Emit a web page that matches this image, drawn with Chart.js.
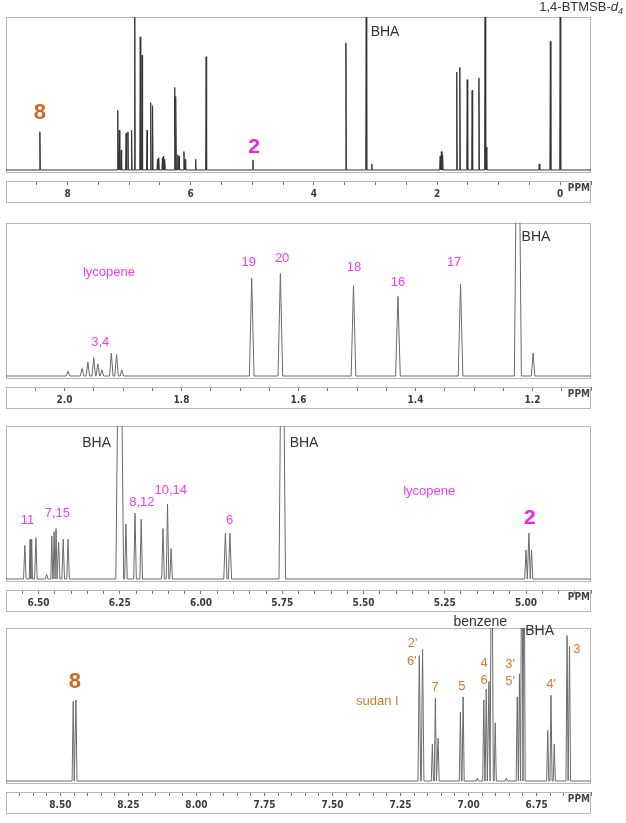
<!DOCTYPE html>
<html>
<head>
<meta charset="utf-8">
<script src="https://cdn.jsdelivr.net/npm/chart.js@4.4.1/dist/chart.umd.min.js"></script>
<style>
  body { margin: 0; background: #fff; width: 626px; height: 823px; position: relative; overflow: hidden; }
  .panel { position: absolute; left: 0; width: 626px; height: 205px; }
</style>
</head>
<body>
<div class="panel" style="top:0px"><canvas id="full" width="626" height="205"></canvas></div>
<div class="panel" style="top:206px"><canvas id="aliph" width="626" height="205"></canvas></div>
<div class="panel" style="top:409px"><canvas id="olef" width="626" height="205"></canvas></div>
<div class="panel" style="top:611px"><canvas id="arom" width="626" height="205"></canvas></div>
<script>
// ---- data (ppm, relative height, half linewidth in ppm) ----

// full spectrum, 9.0 .. -0.5 ppm
const fullShift = [8.45, 7.185, 7.16, 7.13, 7.05, 7.02, 6.96, 6.91, 6.82, 6.79, 6.71, 6.65, 6.62,
  6.54, 6.52, 6.46, 6.44, 6.42, 6.26, 6.24, 6.21, 6.19, 6.11, 6.09, 5.92, 5.75, 4.99,
  3.48, 3.15, 3.06, 1.95, 1.93, 1.91, 1.68, 1.63, 1.51, 1.43, 1.32, 1.22, 1.20, 0.34, 0.16, 0.0];
const fullHeight = [0.25, 0.39, 0.26, 0.13, 0.24, 0.25, 0.26, 1.5, 0.87, 0.75, 0.26, 0.44, 0.42,
  0.07, 0.08, 0.08, 0.09, 0.07, 0.54, 0.48, 0.10, 0.09, 0.12, 0.07, 0.07, 0.74, 0.065,
  0.83, 1.5, 0.04, 0.09, 0.12, 0.10, 0.64, 0.67, 0.59, 0.52, 0.60, 1.5, 0.15, 0.04, 0.84, 1.5];
const fullLw = fullShift.map(() => 0.008);
const fullTicks = ['8', '6', '4', '2', '0'];

// lycopene methyls, 2.1 .. 1.1 ppm
const aliphShift = [1.994, 1.970, 1.960, 1.950, 1.943, 1.936, 1.920, 1.911, 1.902,
  1.680, 1.631, 1.506, 1.430, 1.323, 1.225, 1.199];
const aliphHeight = [0.03, 0.05, 0.09, 0.12, 0.08, 0.04, 0.15, 0.14, 0.04,
  0.64, 0.67, 0.59, 0.52, 0.60, 2.5, 0.15];
const aliphLw = [0.003, 0.003, 0.003, 0.003, 0.003, 0.003, 0.003, 0.003, 0.003,
  0.004, 0.004, 0.004, 0.004, 0.004, 0.006, 0.003];
const aliphTicks = ['2.0', '1.8', '1.6', '1.4', '1.2'];

// lycopene olefinic region, 6.6 .. 4.8 ppm
const olefShift = [6.542, 6.526, 6.521, 6.508, 6.475, 6.459, 6.452, 6.446, 6.438, 6.424, 6.409,
  6.250, 6.231, 6.203, 6.184, 6.117, 6.103, 6.092, 5.925, 5.911, 5.750, 5.000, 4.991, 4.983];
const olefHeight = [0.22, 0.26, 0.26, 0.27, 0.03, 0.28, 0.31, 0.33, 0.24, 0.26, 0.26,
  2.5, 0.36, 0.43, 0.39, 0.33, 0.49, 0.20, 0.30, 0.30, 2.5, 0.19, 0.30, 0.19];
const olefLw = [0.004, 0.0025, 0.0025, 0.004, 0.004, 0.003, 0.003, 0.003, 0.004, 0.004, 0.004,
  0.012, 0.004, 0.004, 0.004, 0.004, 0.004, 0.004, 0.005, 0.005, 0.01, 0.004, 0.004, 0.004];
const olefTicks = ['6.50', '6.25', '6.00', '5.75', '5.50', '5.25', '5.00'];

// sudan I aromatic region, 8.7 .. 6.55 ppm
const aromShift = [8.453, 8.443, 7.181, 7.169, 7.133, 7.122, 7.112, 7.030, 7.020, 6.968,
  6.944, 6.935, 6.925, 6.915, 6.902, 6.861, 6.821, 6.813, 6.804, 6.796,
  6.709, 6.697, 6.685, 6.638, 6.629];
const aromHeight = [0.52, 0.53, 0.82, 0.86, 0.24, 0.54, 0.28, 0.45, 0.55, 0.02,
  0.53, 0.60, 0.65, 2.0, 0.38, 0.02, 0.55, 0.70, 2.0, 2.0,
  0.33, 0.56, 0.24, 0.95, 0.88];
const aromLw = [0.004, 0.004, 0.005, 0.005, 0.004, 0.004, 0.004, 0.004, 0.004, 0.004,
  0.004, 0.004, 0.004, 0.006, 0.004, 0.004, 0.004, 0.004, 0.004, 0.004,
  0.004, 0.004, 0.004, 0.004, 0.004];
const aromTicks = ['8.50', '8.25', '8.00', '7.75', '7.50', '7.25', '7.00', '6.75'];

// ---- annotation text: [text, ppm, level, kind] ----
const fullNotes = [['8', 8.45, 0.37, 'dyeBig'], ['2', 4.97, 0.15, 'lycBig'], ['BHA', 2.845, 0.90, 'ref']];
const aliphNotes = [['lycopene', 1.924, 0.68, 'lyc'], ['3,4', 1.939, 0.22, 'lyc'], ['19', 1.685, 0.74, 'lyc'],
  ['20', 1.628, 0.77, 'lyc'], ['18', 1.505, 0.71, 'lyc'], ['16', 1.430, 0.61, 'lyc'],
  ['17', 1.334, 0.74, 'lyc'], ['BHA', 1.194, 0.91, 'ref']];
const olefNotes = [['11', 6.534, 0.38, 'lyc'], ['7,15', 6.442, 0.43, 'lyc'], ['BHA', 6.321, 0.89, 'ref'],
  ['8,12', 6.182, 0.50, 'lyc'], ['10,14', 6.093, 0.58, 'lyc'], ['6', 5.912, 0.38, 'lyc'],
  ['BHA', 5.683, 0.89, 'ref'], ['lycopene', 5.298, 0.57, 'lyc'], ['2', 4.988, 0.40, 'lycBig']];
const aromNotes = [['8', 8.447, 0.65, 'dyeBig'], ['sudan I', 7.335, 0.52, 'dye'],
  ["2'", 7.206, 0.90, 'dye'], ["6'", 7.208, 0.78, 'dye'], ['7', 7.123, 0.61, 'dye'], ['5', 7.025, 0.62, 'dye'],
  ['4', 6.943, 0.77, 'dye'], ['6', 6.943, 0.66, 'dye'], ["3'", 6.847, 0.76, 'dye'], ["5'", 6.847, 0.65, 'dye'],
  ["4'", 6.697, 0.63, 'dye'], ['3', 6.602, 0.86, 'dye'], ['benzene', 6.957, 1.04, 'ref'], ['BHA', 6.739, 0.98, 'ref']];

const LABEL_FONT = '"Liberation Sans", Arial, sans-serif';
const TICK_FONT = '"Liberation Sans Narrow", "DejaVu Sans Condensed", "Liberation Sans", sans-serif';
const noteStyle = {
  lyc: { color: '#f23cf2', font: '13px ' + LABEL_FONT },
  lycBig: { color: '#ee22ee', font: 'bold 21px ' + LABEL_FONT },
  dye: { color: '#d9792f', font: '13px ' + LABEL_FONT },
  dyeBig: { color: '#cc6a24', font: 'bold 22px ' + LABEL_FONT },
  ref: { color: '#333', font: '14px ' + LABEL_FONT }
};

// each peak becomes foot - apex - foot
function trace(shift, height, lw, from, to) {
  const pts = [{ x: from, y: 0 }];
  shift.forEach((s, i) => {
    pts.push({ x: s + lw[i], y: 0 }, { x: s, y: height[i] }, { x: s - lw[i], y: 0 });
  });
  pts.push({ x: to, y: 0 });
  return pts;
}

function boxPlugin(notes, withTitle) {
  return {
    id: 'box',
    beforeDatasetsDraw(chart) {
      const { ctx, chartArea: a, scales: { y } } = chart;
      const bottom = Math.round(y.getPixelForValue(0)) + 2.5;
      ctx.save();
      ctx.strokeStyle = '#b8b8b8';
      ctx.lineWidth = 1;
      ctx.strokeRect(a.left + 0.5, a.top + 0.5, a.right - a.left - 1, bottom - a.top - 0.5);
      ctx.strokeRect(a.left + 0.5, a.bottom + 0.5, a.right - a.left - 1, 21);
      ctx.restore();
    },
    afterDraw(chart) {
      const { ctx, chartArea: a, scales: { x, y } } = chart;
      ctx.save();
      ctx.textAlign = 'center';
      ctx.textBaseline = 'middle';
      notes.forEach(([t, ppm, lev, kind]) => {
        ctx.fillStyle = noteStyle[kind].color;
        ctx.font = noteStyle[kind].font;
        ctx.fillText(t, x.getPixelForValue(ppm), y.getPixelForValue(lev));
      });
      // axis unit
      ctx.fillStyle = '#444';
      ctx.font = 'bold 10px ' + TICK_FONT;
      ctx.textAlign = 'right';
      ctx.fillText('PPM', a.right - 1, a.bottom + 7);
      if (withTitle) {
        // 1,4-BTMSB-d4 reference label above the box
        const xr = x.getPixelForValue(-1.02), yc = y.getPixelForValue(1.065);
        ctx.fillStyle = '#333';
        ctx.textAlign = 'left';
        ctx.font = '13px ' + LABEL_FONT;
        const w1 = ctx.measureText('1,4-BTMSB-').width;
        ctx.font = 'italic 13px ' + LABEL_FONT;
        const w2 = ctx.measureText('d').width;
        ctx.font = 'italic 9px ' + LABEL_FONT;
        const w3 = ctx.measureText('4').width;
        const x0 = xr - (w1 + w2 + w3);
        ctx.font = '13px ' + LABEL_FONT;
        ctx.fillText('1,4-BTMSB-', x0, yc);
        ctx.font = 'italic 13px ' + LABEL_FONT;
        ctx.fillText('d', x0 + w1, yc);
        ctx.font = 'italic 9px ' + LABEL_FONT;
        ctx.fillText('4', x0 + w1 + w2, yc + 4);
      }
      ctx.restore();
    }
  };
}

function spectrum(id, shift, height, lw, max, min, step, ticks, notes, color, withTitle) {
  return new Chart(document.getElementById(id), {
    type: 'line',
    data: {
      datasets: [{
        data: trace(shift, height, lw, max, min),
        borderColor: color,
        borderWidth: 1,
        pointRadius: 0,
        tension: 0,
        fill: false
      }]
    },
    options: {
      responsive: false,
      animation: false,
      events: [],
      layout: { padding: { top: 17, left: 6, right: 35, bottom: 0 } },
      plugins: { legend: { display: false }, tooltip: { enabled: false } },
      scales: {
        x: {
          type: 'linear',
          reverse: true,
          min: min,
          max: max,
          afterFit: (s) => { s.height = 24; },
          border: { display: true, color: '#777' },
          grid: { drawOnChartArea: false, tickLength: 4, color: '#777' },
          ticks: {
            stepSize: step,
            autoSkip: false,
            maxRotation: 0,
            padding: 3,
            color: '#3a3a3a',
            font: { family: TICK_FONT, size: 10, weight: 'bold' },
            callback: (v) => {
              const hit = ticks.find((l) => Math.abs(parseFloat(l) - v) < 1e-6);
              return hit === undefined ? '' : hit;
            }
          }
        },
        y: { display: false, min: -11 / 153, max: 1 }
      }
    },
    plugins: [boxPlugin(notes, withTitle)]
  });
}

spectrum('full', fullShift, fullHeight, fullLw, 9.0, -0.5, 0.5, fullTicks, fullNotes, '#333333', true);
spectrum('aliph', aliphShift, aliphHeight, aliphLw, 2.1, 1.1, 0.05, aliphTicks, aliphNotes, '#6a6a6a', false);
spectrum('olef', olefShift, olefHeight, olefLw, 6.6, 4.8, 0.05, olefTicks, olefNotes, '#6a6a6a', false);
spectrum('arom', aromShift, aromHeight, aromLw, 8.7, 6.55, 0.05, aromTicks, aromNotes, '#6a6a6a', false);
</script>
</body>
</html>
